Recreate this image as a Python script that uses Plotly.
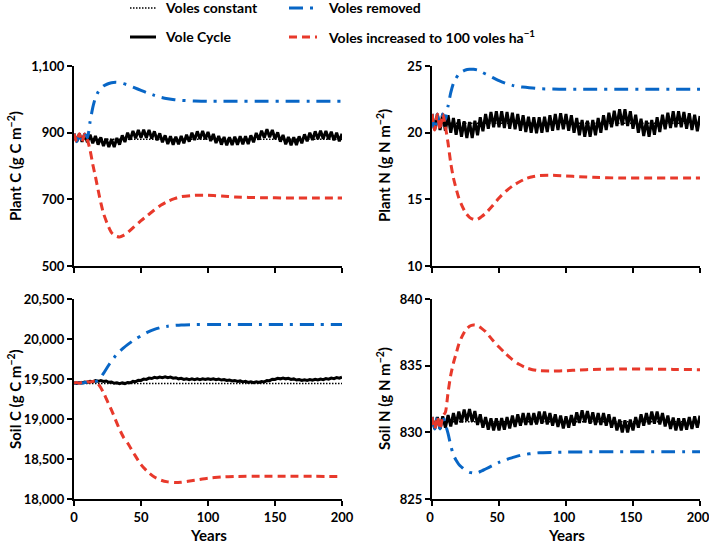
import plotly.graph_objects as go

# ---------------- data ----------------
years = list(range(0, 201, 2))
years_scn = [0, 2, 4, 6, 8, 10, 12, 14, 16, 18, 20, 22, 25, 28, 31, 34, 37, 40, 45, 50,
             55, 60, 65, 70, 75, 80, 90, 100, 110, 120, 140, 160, 180, 200]
years_const = [0, 200]

# Plant C (g C m-2)
plantC_const = [880, 880]
plantC_cycle = [897, 873, 897, 873, 896, 871, 894, 868, 890, 864, 886, 860, 882, 857, 880, 857, 884, 864, 892, 872,
                900, 879, 905, 883, 908, 885, 909, 885, 908, 882, 904, 877, 898, 871, 892, 866, 889, 864, 888, 865,
                890, 868, 894, 873, 900, 878, 904, 881, 905, 880, 902, 875, 896, 869, 890, 864, 887, 862, 886, 863,
                888, 864, 889, 865, 889, 866, 892, 871, 899, 879, 906, 885, 910, 886, 908, 881, 901, 873, 893, 865,
                887, 862, 886, 863, 889, 868, 895, 874, 900, 878, 904, 881, 906, 882, 905, 880, 903, 877, 900, 874,
                897]
plantC_removed = [897, 873, 897, 873, 896, 885, 933, 975, 1005, 1022, 1033, 1040, 1046, 1050, 1051, 1050, 1047,
                  1043, 1035, 1027, 1019, 1012, 1006, 1002, 999, 997, 995, 994, 994, 994, 994, 994, 994, 994]
plantC_increased = [897, 873, 897, 873, 896, 878, 848, 805, 768, 728, 690, 658, 625, 600, 590, 587, 592, 600, 618,
                    636, 652, 668, 683, 694, 702, 708, 712, 712, 710, 707, 705, 704, 704, 704]

# Plant N (g N m-2)
plantN_const = [20.7, 20.7]
plantN_cycle = [21.4, 20.2, 21.4, 20.2, 21.4, 20.15, 21.3, 20.0, 21.1, 19.85, 21.0, 19.7, 20.85, 19.6, 20.8, 19.6,
                20.9, 19.8, 21.15, 20.1, 21.4, 20.3, 21.55, 20.4, 21.6, 20.4, 21.6, 20.35, 21.55, 20.3, 21.5, 20.25,
                21.4, 20.15, 21.3, 20.05, 21.2, 20.0, 21.15, 19.95, 21.15, 20.0, 21.2, 20.05, 21.3, 20.15, 21.4, 20.2,
                21.45, 20.25, 21.4, 20.15, 21.3, 20.0, 21.1, 19.8, 20.95, 19.7, 20.9, 19.7, 20.95, 19.8, 21.1, 20.0,
                21.3, 20.2, 21.5, 20.4, 21.65, 20.5, 21.75, 20.55, 21.75, 20.5, 21.6, 20.3, 21.35, 20.0, 21.05, 19.75,
                20.9, 19.7, 20.95, 19.85, 21.15, 20.05, 21.35, 20.25, 21.5, 20.35, 21.6, 20.4, 21.6, 20.4, 21.55, 20.3,
                21.45, 20.2, 21.35, 20.1, 21.25]
plantN_removed = [21.4, 20.2, 21.4, 20.2, 21.4, 21.0, 22.0, 23.0, 23.7, 24.1, 24.4, 24.55, 24.7, 24.75, 24.75, 24.7,
                  24.55, 24.4, 24.15, 23.9, 23.7, 23.55, 23.45, 23.4, 23.35, 23.3, 23.27, 23.25, 23.25, 23.25, 23.25,
                  23.25, 23.25, 23.25]
plantN_increased = [21.4, 20.2, 21.4, 20.2, 21.4, 20.45, 19.2, 17.7, 16.6, 15.8, 15.1, 14.6, 14.0, 13.65, 13.5,
                    13.5, 13.7, 13.95, 14.5, 15.1, 15.6, 16.0, 16.3, 16.55, 16.7, 16.78, 16.8, 16.75, 16.7, 16.65,
                    16.6, 16.6, 16.6, 16.6]

# Soil C (g C m-2)
soilC_const = [19445, 19445]
soilC_cycle = [19455, 19445, 19457, 19450, 19463, 19457, 19471, 19465, 19479, 19471, 19481, 19469, 19475, 19459,
               19463, 19447, 19453, 19441, 19451, 19443, 19457, 19453, 19470, 19467, 19485, 19482, 19499, 19495,
               19511, 19506, 19520, 19513, 19525, 19516, 19526, 19515, 19523, 19510, 19516, 19502, 19508, 19495,
               19503, 19492, 19501, 19491, 19501, 19492, 19502, 19493, 19503, 19493, 19502, 19491, 19499, 19487,
               19494, 19481, 19488, 19475, 19482, 19469, 19476, 19463, 19470, 19458, 19466, 19455, 19465, 19456,
               19469, 19464, 19481, 19479, 19497, 19494, 19509, 19502, 19513, 19502, 19509, 19495, 19501, 19487,
               19494, 19482, 19491, 19481, 19492, 19484, 19496, 19488, 19500, 19492, 19505, 19498, 19511, 19504,
               19517, 19510, 19523]
soilC_removed = [19450, 19450, 19452, 19450, 19455, 19458, 19460, 19462, 19468, 19485, 19520, 19570, 19650, 19725,
                 19790, 19845, 19890, 19930, 19990, 20040, 20085, 20120, 20145, 20160, 20170, 20176, 20180, 20182,
                 20182, 20182, 20182, 20182, 20182, 20182]
soilC_increased = [19450, 19455, 19448, 19460, 19455, 19465, 19462, 19470, 19468, 19440, 19390, 19330, 19220, 19110,
                   18990, 18870, 18770, 18700, 18560, 18430, 18340, 18275, 18235, 18214, 18206, 18210, 18235, 18260,
                   18275, 18282, 18285, 18285, 18283, 18282]

# Soil N (g N m-2)
soilN_const = [830.8, 830.8]
soilN_cycle = [831.15, 830.25, 831.15, 830.25, 831.2, 830.35, 831.3, 830.45, 831.45, 830.6, 831.55, 830.75, 831.7,
               830.85, 831.75, 830.8, 831.6, 830.55, 831.35, 830.35, 831.15, 830.2, 831.05, 830.15, 831.05, 830.15,
               831.07, 830.2, 831.15, 830.3, 831.25, 830.4, 831.35, 830.5, 831.45, 830.55, 831.45, 830.55, 831.45,
               830.6, 831.55, 830.65, 831.55, 830.6, 831.45, 830.5, 831.35, 830.4, 831.25, 830.3, 831.2, 830.35,
               831.3, 830.5, 831.5, 830.7, 831.65, 830.75, 831.6, 830.65, 831.5, 830.55, 831.45, 830.55, 831.45,
               830.5, 831.35, 830.35, 831.15, 830.15, 830.95, 830.0, 830.9, 830.0, 830.95, 830.15, 831.15, 830.35,
               831.35, 830.5, 831.45, 830.6, 831.55, 830.65, 831.55, 830.6, 831.45, 830.45, 831.25, 830.25, 831.1,
               830.15, 831.05, 830.15, 831.05, 830.2, 831.15, 830.25, 831.2, 830.35, 831.25]
soilN_removed = [831.15, 830.25, 831.15, 830.25, 831.2, 830.6, 829.9, 829.0, 828.3, 827.9, 827.6, 827.4, 827.15,
                 827.0, 826.95, 826.97, 827.1, 827.25, 827.5, 827.75, 827.95, 828.1, 828.25, 828.35, 828.42, 828.47,
                 828.5, 828.52, 828.53, 828.54, 828.55, 828.55, 828.55, 828.55]
soilN_increased = [831.15, 830.25, 831.15, 830.25, 831.2, 831.5, 833.0, 834.3, 835.2, 835.9, 836.6, 837.1, 837.65,
                   837.95, 838.05, 838.0, 837.8, 837.55, 836.95, 836.4, 835.9, 835.45, 835.1, 834.85, 834.7, 834.62,
                   834.6, 834.62, 834.68, 834.72, 834.75, 834.75, 834.72, 834.7]

series_names = ["Voles constant", "Vole Cycle", "Voles removed", "Voles increased to 100 voles ha<sup>\u22121</sup>"]

panels = [
    dict(const=plantC_const, cycle=plantC_cycle, rem=plantC_removed, inc=plantC_increased,
         yrange=[500, 1100], dtick=200, tick0=500, title="Plant C (g C m<sup>\u22122</sup>)"),
    dict(const=plantN_const, cycle=plantN_cycle, rem=plantN_removed, inc=plantN_increased,
         yrange=[10, 25], dtick=5, tick0=10, title="Plant N (g N m<sup>\u22122</sup>)"),
    dict(const=soilC_const, cycle=soilC_cycle, rem=soilC_removed, inc=soilC_increased,
         yrange=[18000, 20500], dtick=500, tick0=18000, title="Soil C (g C m<sup>\u22122</sup>)"),
    dict(const=soilN_const, cycle=soilN_cycle, rem=soilN_removed, inc=soilN_increased,
         yrange=[825, 840], dtick=5, tick0=825, title="Soil N (g N m<sup>\u22122</sup>)"),
]

# ---------------- layout geometry ----------------
W, H = 709, 544
xdoms = [[74 / W, 342 / W], [432 / W, 700 / W]]
ydoms = [[1 - 266 / H, 1 - 66 / H], [1 - 499 / H, 1 - 299 / H]]

BLUE = "#0866C6"
RED = "#E8392B"
FONT = "Lato"

styles = [
    dict(color="black", width=1.5, dash="1.5px,1.5px"),
    dict(color="black", width=3),
    dict(color=BLUE, width=3, dash="14px,7px,3px,7px"),
    dict(color=RED, width=3, dash="8px,5px"),
]

fig = go.Figure()
layout_axes = {}
annotations = []
shapes = []

for i, p in enumerate(panels):
    row, col = divmod(i, 2)
    ax = "" if i == 0 else str(i + 1)
    xref, yref = "x" + ax, "y" + ax
    fig.add_trace(go.Scatter(x=years_const, y=p["const"], mode="lines", name=series_names[0],
                             line=styles[0], xaxis=xref, yaxis=yref, showlegend=False))
    fig.add_trace(go.Scatter(x=years, y=p["cycle"], mode="lines", name=series_names[1],
                             line=styles[1], xaxis=xref, yaxis=yref, showlegend=False))
    fig.add_trace(go.Scatter(x=years_scn, y=p["rem"], mode="lines", name=series_names[2],
                             line=dict(styles[2], shape="spline", smoothing=0.6),
                             xaxis=xref, yaxis=yref, showlegend=False))
    fig.add_trace(go.Scatter(x=years_scn, y=p["inc"], mode="lines", name=series_names[3],
                             line=dict(styles[3], shape="spline", smoothing=0.6),
                             xaxis=xref, yaxis=yref, showlegend=False))

    common = dict(showgrid=False, zeroline=False, showline=True, linecolor="black", linewidth=2,
                  ticks="outside", ticklen=5, tickwidth=2, tickcolor="black", automargin=False,
                  ticklabeloverflow="allow",
                  tickfont=dict(family=FONT, size=13, color="black", weight="bold"))
    layout_axes["xaxis" + ax] = dict(common, domain=xdoms[col], range=[0, 200], dtick=50, tick0=0,
                                     anchor=yref, showticklabels=(row == 1),
                                     ticklabelshift=(-2 if col == 1 else 0))
    layout_axes["yaxis" + ax] = dict(common, domain=ydoms[row], range=p["yrange"], dtick=p["dtick"],
                                     tick0=p["tick0"], tickformat=",d", anchor=xref)

    ymid = (ydoms[row][0] + ydoms[row][1]) / 2
    xt = (14 if col == 0 else 383) / W
    annotations.append(dict(text=p["title"], x=xt, y=ymid, xref="paper", yref="paper",
                            textangle=-90, showarrow=False, xanchor="center", yanchor="middle",
                            font=dict(family=FONT, size=15, color="black", weight="bold")))
    if row == 1:
        annotations.append(dict(text="Years", x=(xdoms[col][0] + xdoms[col][1]) / 2, y=1 - 535 / H,
                                xref="paper", yref="paper", showarrow=False,
                                xanchor="center", yanchor="middle",
                                font=dict(family=FONT, size=15, color="black", weight="bold")))

# ---------------- legend (drawn as key lines + labels) ----------------
legend_slots = [  # (sample x0, sample x1, text x, row y) in pixels
    (130, 156, 163, 8),
    (130, 156, 163, 37),
    (289, 317, 326, 8),
    (289, 317, 326, 37),
]
for k, (x0, x1, tx, ty) in enumerate(legend_slots):
    shapes.append(dict(type="line", xref="paper", yref="paper",
                       x0=x0 / W, x1=x1 / W, y0=1 - ty / H, y1=1 - ty / H, line=styles[k]))
    annotations.append(dict(text=series_names[k], x=tx / W, y=1 - ty / H, xref="paper", yref="paper",
                            showarrow=False, xanchor="left", yanchor="middle",
                            font=dict(family=FONT, size=14, color="black", weight="bold")))

fig.update_layout(
    width=W, height=H, margin=dict(l=0, r=0, t=0, b=0),
    paper_bgcolor="white", plot_bgcolor="white",
    showlegend=False,
    annotations=annotations,
    shapes=shapes,
    **layout_axes,
)

fig.write_html("out.html", config={"displayModeBar": False},
               post_script="document.body.style.margin='0';document.body.style.overflow='hidden';")
